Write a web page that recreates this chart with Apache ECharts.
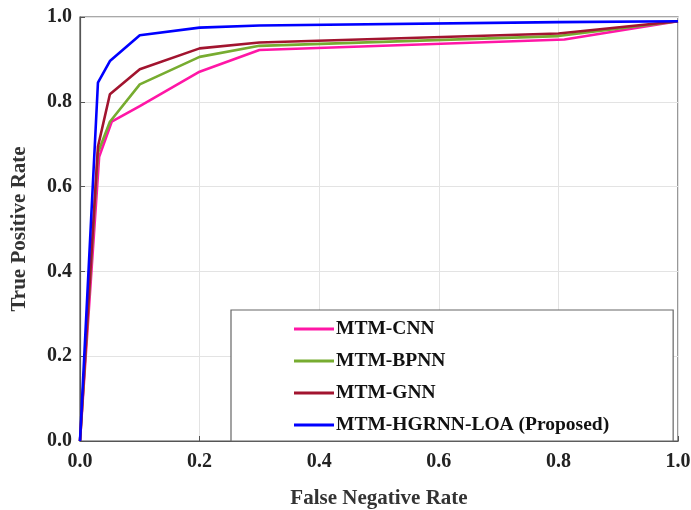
<!DOCTYPE html>
<html><head><meta charset="utf-8">
<script src="https://cdn.jsdelivr.net/npm/echarts@6/dist/echarts.min.js"></script>
<style>html,body{margin:0;padding:0;background:#fff}#c{width:691px;height:510px}</style>
</head><body><div id="c"></div>
<script>
const seriesNames = ['MTM-CNN', 'MTM-BPNN', 'MTM-GNN', 'MTM-HGRNN-LOA (Proposed)'];
const seriesColors = ['#ff16a6', '#77ac30', '#a2142f', '#0000ff'];
const cnnFNR = [0, 0.032, 0.053, 0.1, 0.2, 0.3, 0.81, 1.0];
const cnnTPR = [0, 0.67, 0.753, 0.79, 0.871, 0.922, 0.947, 0.99];
const bpnnFNR = [0, 0.03, 0.05, 0.1, 0.2, 0.3, 0.8, 1.0];
const bpnnTPR = [0, 0.68, 0.753, 0.841, 0.906, 0.932, 0.955, 0.99];
const gnnFNR = [0, 0.03, 0.05, 0.1, 0.2, 0.3, 0.8, 1.0];
const gnnTPR = [0, 0.694, 0.818, 0.877, 0.926, 0.94, 0.961, 0.99];
const propFNR = [0, 0.03, 0.05, 0.1, 0.2, 0.3, 0.8, 1.0];
const propTPR = [0, 0.845, 0.896, 0.957, 0.975, 0.98, 0.988, 0.99];
const xs = [cnnFNR, bpnnFNR, gnnFNR, propFNR];
const ys = [cnnTPR, bpnnTPR, gnnTPR, propTPR];

const font = '"Liberation Serif","Times New Roman",serif';
const chart = echarts.init(document.getElementById('c'));
chart.setOption({
  animation: false,
  backgroundColor: '#fff',
  grid: { left: 80, right: 13, top: 17, bottom: 69, show: true, borderColor: '#555', borderWidth: 1.2, containLabel: false, outerBoundsMode: 'none' },
  xAxis: {
    type: 'value', min: 0, max: 1, interval: 0.2,
    name: 'False Negative Rate', nameLocation: 'middle', nameGap: 47,
    nameTextStyle: { fontFamily: font, fontWeight: 'bold', fontSize: 21, color: '#333' },
    axisLine: { show: true, lineStyle: { color: '#555', width: 1.2 } },
    axisTick: { show: true, inside: true, length: 5, lineStyle: { color: '#555' } },
    axisLabel: { margin: 11, fontFamily: font, fontWeight: 'bold', fontSize: 20, color: '#222', formatter: v => v.toFixed(1) },
    splitLine: { show: true, lineStyle: { color: '#e3e3e3', width: 1 } }
  },
  yAxis: {
    type: 'value', min: 0, max: 1, interval: 0.2,
    name: 'True Positive Rate', nameLocation: 'middle', nameGap: 50,
    nameTextStyle: { fontFamily: font, fontWeight: 'bold', fontSize: 21, color: '#333' },
    axisLine: { show: true, lineStyle: { color: '#555', width: 1.2 } },
    axisTick: { show: true, inside: true, length: 5, lineStyle: { color: '#555' } },
    axisLabel: { margin: 8, fontFamily: font, fontWeight: 'bold', fontSize: 20, color: '#222', formatter: v => v.toFixed(1) },
    splitLine: { show: true, lineStyle: { color: '#e3e3e3', width: 1 } }
  },
  legend: {
    orient: 'vertical', left: 231, top: 310,
    padding: [9, 64, 6, 63],
    itemWidth: 40, itemHeight: 3, itemGap: 12,
    icon: 'rect',
    backgroundColor: '#fff', borderColor: '#666', borderWidth: 1.2,
    textStyle: { fontFamily: font, fontWeight: 'bold', fontSize: 19.5, color: '#111', padding: [0, 0, 0, -3] },
    data: seriesNames
  },
  series: seriesNames.map((n, i) => ({
    name: n, type: 'line', symbol: 'none', z: 1,
    color: seriesColors[i],
    lineStyle: { width: 2.6, color: seriesColors[i] },
    data: xs[i].map((x, j) => [x, ys[i][j]])
  }))
});
</script></body></html>
